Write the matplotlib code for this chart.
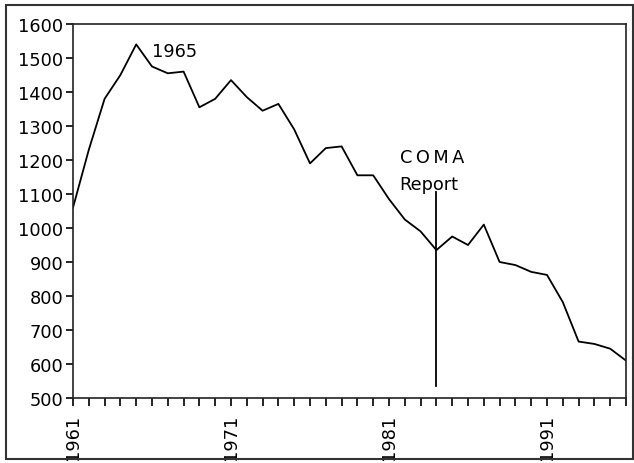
import matplotlib.pyplot as plt
from matplotlib.patches import Rectangle

# data
years = list(range(1961, 1997))
values = [1060, 1230, 1380, 1450, 1540, 1475, 1455, 1460, 1355, 1380,
          1435, 1385, 1345, 1365, 1290, 1190, 1235, 1240, 1155, 1155,
          1085, 1025, 990, 935, 975, 950, 1010, 900, 891, 871,
          862, 782, 666, 659, 645, 610]
yticks = [500, 600, 700, 800, 900, 1000, 1100, 1200, 1300, 1400, 1500, 1600]
xlabels = [1961, 1971, 1981, 1991]
coma_year = 1984
coma_range = (535, 1106)

fs = 12.8
fig = plt.figure(figsize=(6.34, 4.64), dpi=100)
ax = fig.add_axes([73 / 634, 1 - 399 / 464, (626 - 73) / 634, (399 - 25) / 464])

ax.plot(years, values, color='black', lw=1.3)
ax.plot([coma_year, coma_year], coma_range, color='black', lw=1.3)

ax.text(1966.0, 1520, '1965', fontsize=fs, ha='left', va='center')
ax.text(1981.7, 1209, 'C\u2009O\u2009M\u2009A', fontsize=fs, ha='left', va='center')
ax.text(1981.65, 1129, 'Report', fontsize=fs, ha='left', va='center')

ax.set_xlim(years[0], years[-1])
ax.set_ylim(500, 1600)
ax.set_yticks(yticks)
ax.set_yticklabels([str(v) for v in yticks], fontsize=fs)
ax.set_xticks(years)
ax.set_xticklabels([str(y) if y in xlabels else '' for y in years],
                   rotation=90, fontsize=fs)
ax.tick_params(axis='y', length=5, width=1.2, pad=2, direction='out')
ax.tick_params(axis='x', length=6, width=1.2, pad=5, direction='out')
for s in ax.spines.values():
    s.set_linewidth(1.2)
    s.set_color('#222222')

# outer frame
fig.patches.append(Rectangle((6 / 634, 4 / 464), 627 / 634, 454 / 464,
                             transform=fig.transFigure, fill=False,
                             edgecolor='#333333', lw=1.5))

fig.savefig('out.png', dpi=100)
